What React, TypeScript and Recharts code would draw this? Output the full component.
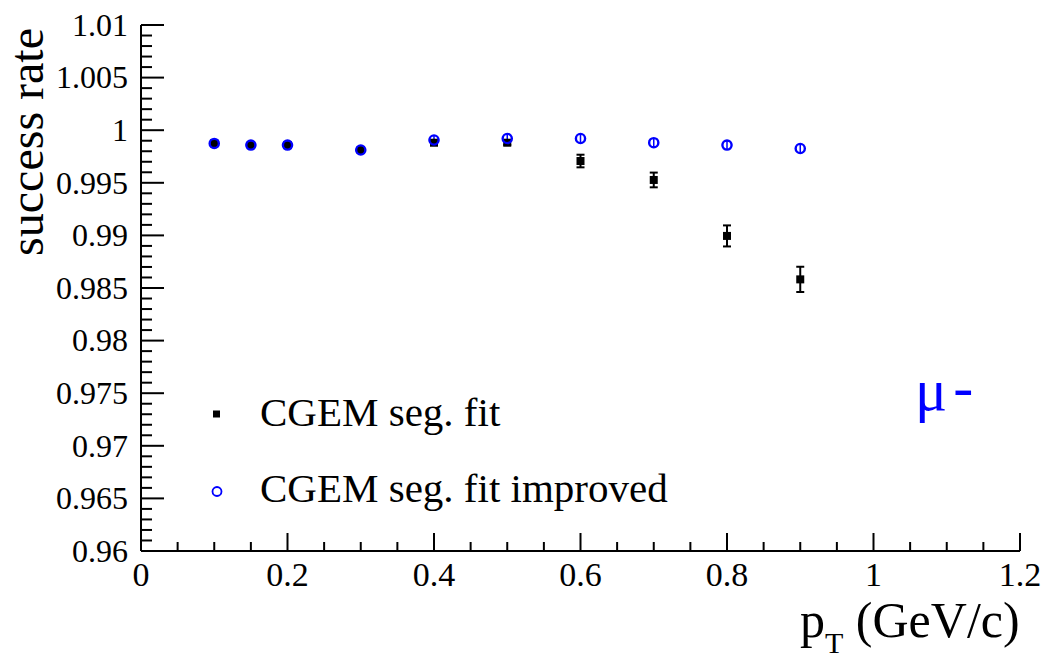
import React from "react";
import { ErrorBar, Legend, Scatter, ScatterChart, XAxis, YAxis } from "recharts";

// pT bins (GeV/c) and success rates
const ptValues = [0.1, 0.15, 0.2, 0.3, 0.4, 0.5, 0.6, 0.7, 0.8, 0.9];
const segFitRate = [0.99874, 0.99859, 0.99859, 0.99812, 0.99881, 0.99881, 0.99707, 0.99527, 0.98995, 0.98582];
const segFitErr = [0.0002, 0.0002, 0.0002, 0.0002, 0.0002, 0.0002, 0.0006, 0.0007, 0.001, 0.0012];
const improvedRate = [0.99874, 0.99859, 0.99859, 0.99812, 0.99907, 0.99921, 0.99921, 0.99881, 0.99859, 0.99826];
const improvedErr = [0.0004, 0.0004, 0.0004, 0.0004, 0.0004, 0.0004, 0.0004, 0.0004, 0.0004, 0.0004];
const seriesNames = ["CGEM seg. fit", "CGEM seg. fit improved"];

const xMajorTicks = [0, 0.2, 0.4, 0.6, 0.8, 1, 1.2];
const xTickLabels = ["0", "0.2", "0.4", "0.6", "0.8", "1", "1.2"];
const yMajorTicks = [0.96, 0.965, 0.97, 0.975, 0.98, 0.985, 0.99, 0.995, 1, 1.005, 1.01];
const yTickLabels = ["0.96", "0.965", "0.97", "0.975", "0.98", "0.985", "0.99", "0.995", "1", "1.005", "1.01"];

// minor divisions: 4 per x major, 5 per y major
const xAllTicks = Array.from({ length: 25 }, (_, i) => Math.round(i * 5) / 100);
const yAllTicks = Array.from({ length: 51 }, (_, i) => Math.round(960 + i) / 1000);

const segFitData = ptValues.map((x, i) => ({ x, y: segFitRate[i], err: segFitErr[i] }));
const improvedData = ptValues.map((x, i) => ({ x, y: improvedRate[i], err: improvedErr[i] }));

const FONT = "'Liberation Serif', 'Times New Roman', serif";
const BLUE = "#0000ff";
const serif = { fontFamily: FONT };

const majorIndex = (list: number[], v: number) => list.findIndex((t) => Math.abs(t - v) < 1e-7);

function BottomTick({ x, y, payload }: any) {
  const i = majorIndex(xMajorTicks, payload.value);
  return (
    <g>
      <line x1={x} x2={x} y1={y} y2={y - (i >= 0 ? 18 : 9)} stroke="#000" strokeWidth={2} />
      {i >= 0 && (
        <text x={x} y={y + 35} textAnchor="middle" fontSize={34} style={serif} fill="#000">
          {xTickLabels[i]}
        </text>
      )}
    </g>
  );
}

function TopTick({ x, y, payload }: any) {
  const i = majorIndex(xMajorTicks, payload.value);
  return <line x1={x} x2={x} y1={y} y2={y + (i >= 0 ? 18 : 9)} stroke="#000" strokeWidth={2} />;
}

function LeftTick({ x, y, payload }: any) {
  const i = majorIndex(yMajorTicks, payload.value);
  return (
    <g>
      <line x1={x} x2={x + (i >= 0 ? 23 : 11)} y1={y} y2={y} stroke="#000" strokeWidth={2} />
      {i >= 0 && (
        <text x={x - 13} y={y} dy="0.34em" textAnchor="end" fontSize={32} style={serif} fill="#000">
          {yTickLabels[i]}
        </text>
      )}
    </g>
  );
}

function RightTick({ x, y, payload }: any) {
  const i = majorIndex(yMajorTicks, payload.value);
  return <line x1={x} x2={x - (i >= 0 ? 24 : 12)} y1={y} y2={y} stroke="#000" strokeWidth={2} />;
}

function SquareMarker({ cx, cy }: any) {
  return <rect x={cx - 4} y={cy - 4} width={8} height={8} fill="#000" />;
}

function RingMarker({ cx, cy }: any) {
  return <circle cx={cx} cy={cy} r={4.6} fill="none" stroke={BLUE} strokeWidth={2.4} />;
}

function XTitle({ viewBox }: any) {
  const x0 = viewBox.x + viewBox.width - 220;
  return (
    <text x={x0} y={637} style={serif} fontSize={50} fill="#000">
      p
      <tspan dy={16} fontSize={30}>T</tspan>
      <tspan dy={-16}> (GeV/c)</tspan>
    </text>
  );
}

function YTitle() {
  return (
    <text x={43} y={28} transform="rotate(-90, 43, 28)" textAnchor="end" style={serif} fontSize={48} fill="#000">
      success rate
    </text>
  );
}

function LegendBox() {
  return (
    <svg width={520} height={140} style={{ overflow: "visible" }}>
      <rect x={23} y={30.5} width={7} height={7} fill="#000" />
      <text x={70} y={46} style={serif} fontSize={41} fill="#000">
        {seriesNames[0]}
      </text>
      <circle cx={27} cy={111.5} r={4.5} fill="none" stroke={BLUE} strokeWidth={1.8} />
      <text x={70} y={122} style={serif} fontSize={41} fill="#000">
        {seriesNames[1]}
      </text>
    </svg>
  );
}

export default function App() {
  return (
    <div style={{ position: "fixed", left: 0, top: 0, width: 1044, height: 660, background: "#fff", fontFamily: FONT }}>
      <ScatterChart width={1044} height={660} margin={{ top: 25, right: 24, bottom: 0, left: 0 }}>
        <XAxis
          dataKey="x"
          type="number"
          domain={[0, 1.2]}
          ticks={xAllTicks}
          interval={0}
          allowDataOverflow
          height={109}
          tickSize={0}
          tickMargin={0}
          tickLine={false}
          axisLine={{ stroke: "#000", strokeWidth: 2 }}
          tick={<BottomTick />}
          label={<XTitle />}
        />
        <XAxis
          xAxisId="top"
          orientation="top"
          type="number"
          domain={[0, 1.2]}
          ticks={xAllTicks}
          interval={0}
          allowDataOverflow
          height={0}
          tickSize={0}
          tickMargin={0}
          tickLine={false}
          axisLine={{ stroke: "#000", strokeWidth: 2 }}
          tick={<TopTick />}
        />
        <YAxis
          dataKey="y"
          type="number"
          domain={[0.96, 1.01]}
          ticks={yAllTicks}
          interval={0}
          allowDataOverflow
          width={141}
          tickSize={0}
          tickMargin={0}
          tickLine={false}
          axisLine={{ stroke: "#000", strokeWidth: 2 }}
          tick={<LeftTick />}
          label={<YTitle />}
        />
        <YAxis
          yAxisId="right"
          orientation="right"
          type="number"
          domain={[0.96, 1.01]}
          ticks={yAllTicks}
          interval={0}
          allowDataOverflow
          width={0}
          tickSize={0}
          tickMargin={0}
          tickLine={false}
          axisLine={{ stroke: "#000", strokeWidth: 2 }}
          tick={<RightTick />}
        />
        <Scatter name={seriesNames[0]} data={segFitData} shape={<SquareMarker />} isAnimationActive={false}>
          <ErrorBar dataKey="err" direction="y" width={4} stroke="#000" strokeWidth={2} isAnimationActive={false} />
        </Scatter>
        <Scatter name={seriesNames[1]} data={improvedData} shape={<RingMarker />} isAnimationActive={false}>
          <ErrorBar dataKey="err" direction="y" width={0} stroke={BLUE} strokeWidth={1.5} isAnimationActive={false} />
        </Scatter>
        <Legend
          layout="vertical"
          align="center"
          verticalAlign="middle"
          wrapperStyle={{ left: 190, top: 380, width: 520, height: 140 }}
          content={() => <LegendBox />}
        />
      </ScatterChart>
      <svg width={1044} height={660} style={{ position: "absolute", left: 0, top: 0, pointerEvents: "none" }}>
        <text x={915} y={410} style={serif} fontSize={60} fill={BLUE}>
          μ<tspan dx={6} dy={-3}>-</tspan>
        </text>
      </svg>
    </div>
  );
}
